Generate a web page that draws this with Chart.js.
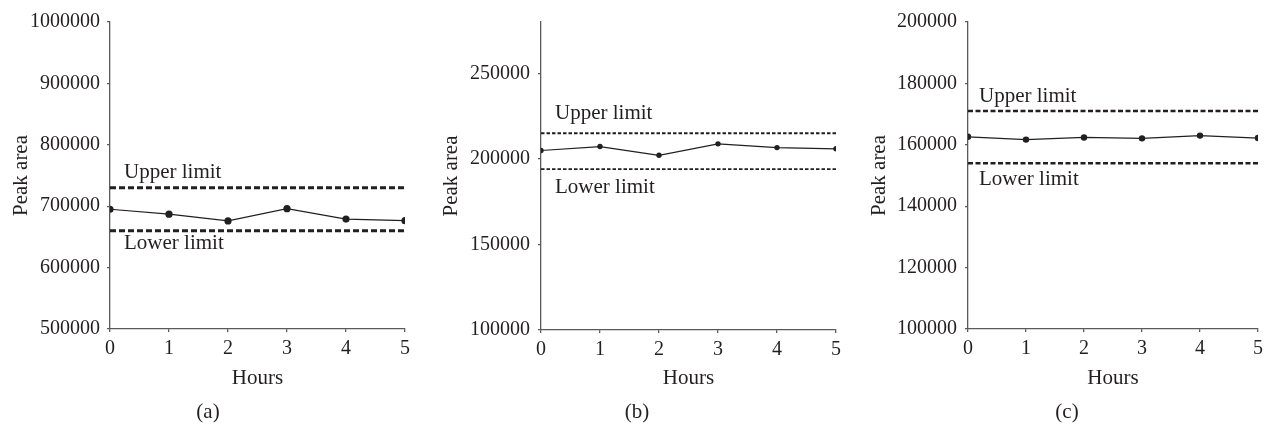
<html>
<head>
<script src="https://cdn.jsdelivr.net/npm/chart.js@4.4.0/dist/chart.umd.min.js"></script>
<style>
  body { margin: 0; background: #fff; }
  canvas { position: absolute; top: 0; }
</style>
</head>
<body>
<canvas id="chartA" width="420" height="427" style="left:0px"></canvas>
<canvas id="chartB" width="430" height="427" style="left:420px"></canvas>
<canvas id="chartC" width="418" height="427" style="left:850px"></canvas>
<script>
  // values
  const hours = [0, 1, 2, 3, 4, 5];

  const peakA = [695000, 687000, 676000, 696000, 679000, 676500];
  const limitsA = [730000, 660000];
  const yRangeA = [500000, 1000000];
  const yTicksA = [500000, 600000, 700000, 800000, 900000, 1000000];

  const peakB = [204900, 207200, 202100, 208800, 206600, 205900];
  const limitsB = [215000, 194000];
  const yRangeB = [100000, 280000];
  const yTicksB = [100000, 150000, 200000, 250000];

  const peakC = [162600, 161700, 162400, 162100, 163000, 162200];
  const limitsC = [171000, 154000];
  const yRangeC = [100000, 200000];
  const yTicksC = [100000, 120000, 140000, 160000, 180000, 200000];

  const limitNames = ['Upper limit', 'Lower limit'];
  const captions = ['(a)', '(b)', '(c)'];

  const ink = '#231f20';
  const axisColor = '#5a5a5a';
  Chart.defaults.font.family = "'Liberation Serif', 'Times New Roman', serif";
  Chart.defaults.font.size = 20;
  Chart.defaults.color = ink;

  // labels above/below the limit lines and the (a)/(b)/(c) caption
  const limitText = {
    id: 'limitText',
    afterDatasetsDraw(chart, args, opts) {
      const ctx = chart.ctx;
      const y = chart.scales.y;
      ctx.save();
      ctx.fillStyle = ink;
      ctx.font = "21px 'Liberation Serif', serif";
      ctx.textBaseline = 'middle';
      ctx.textAlign = 'left';
      const x0 = chart.chartArea.left + opts.dx;
      ctx.fillText(limitNames[0], x0, y.getPixelForValue(opts.limits[0]) - opts.up);
      ctx.fillText(limitNames[1], x0, y.getPixelForValue(opts.limits[1]) + opts.down);
      ctx.textAlign = 'center';
      ctx.fillText(opts.caption, opts.capX, 412);
      ctx.restore();
    }
  };

  let makeChart = (id, peak, limits, yRange, yTicks, p) => {
    const lineData = hours.map((h, i) => ({ x: h, y: peak[i] }));
    const first = hours[0], last = hours[hours.length - 1];
    const dashed = (v) => ({
      data: [{ x: first, y: v }, { x: last, y: v }],
      borderColor: ink,
      borderWidth: p.dashW,
      borderDash: p.dash,
      pointRadius: 0
    });

    return new Chart(document.getElementById(id).getContext('2d'), {
      type: 'line',
      data: {
        datasets: [
          dashed(limits[0]),
          dashed(limits[1]),
          {
            data: lineData,
            borderColor: ink,
            borderWidth: 1.2,
            pointRadius: p.r,
            pointBackgroundColor: ink,
            pointBorderColor: ink,
            pointBorderWidth: 0
          }
        ]
      },
      options: {
        responsive: false,
        animation: false,
        layout: { padding: { top: 22, right: p.padR, left: 0, bottom: 0 } },
        plugins: {
          legend: { display: false },
          tooltip: { enabled: false },
          limitText: { limits: limits, dx: p.dx, up: p.up, down: p.down, caption: p.caption, capX: p.capX }
        },
        scales: {
          x: {
            type: 'linear',
            min: first,
            max: last,
            afterBuildTicks: s => { s.ticks = hours.map(h => ({ value: h })); },
            ticks: { padding: 5, maxRotation: 0, autoSkip: false, callback: v => String(v) },
            grid: { drawOnChartArea: false, tickLength: 3, color: axisColor, lineWidth: 1.3 },
            border: { color: axisColor, width: 1.3 },
            title: { display: true, text: 'Hours', font: { size: 21 }, padding: { top: 0, bottom: 36.4 } },
            afterFit: s => { s.height = p.xH; }
          },
          y: {
            min: yRange[0],
            max: yRange[1],
            afterBuildTicks: s => { s.ticks = yTicks.map(v => ({ value: v })); },
            ticks: { padding: p.tickPad, autoSkip: false, callback: v => String(v) },
            grid: { drawOnChartArea: false, tickLength: 3, color: axisColor, lineWidth: 1.3 },
            border: { color: axisColor, width: 1.3 },
            title: { display: true, text: 'Peak area', font: { size: 21 }, padding: { top: p.titlePad, bottom: 0 } },
            afterFit: s => { s.width = p.yW; }
          }
        }
      },
      plugins: [limitText]
    });
  };

  makeChart('chartA', peakA, limitsA, yRangeA, yTicksA,
    { yW: 110, xH: 98, padR: 15, tickPad: 7, titlePad: 8.4, r: 3.6, dashW: 2.9, dash: [6, 3],
      dx: 14, up: 15, down: 13, caption: captions[0], capX: 208 });
  makeChart('chartB', peakB, limitsB, yRangeB, yTicksB,
    { yW: 121, xH: 97, padR: 14, tickPad: 8, titlePad: 18.4, r: 2.7, dashW: 1.9, dash: [3.5, 2],
      dx: 14, up: 20, down: 18, caption: captions[1], capX: 217 });
  makeChart('chartC', peakC, limitsC, yRangeC, yTicksC,
    { yW: 118, xH: 98, padR: 5, tickPad: 8, titlePad: 16.4, r: 3.2, dashW: 2.6, dash: [5, 2.5],
      dx: 11, up: 15, down: 16, caption: captions[2], capX: 217 });
</script>
</body>
</html>
